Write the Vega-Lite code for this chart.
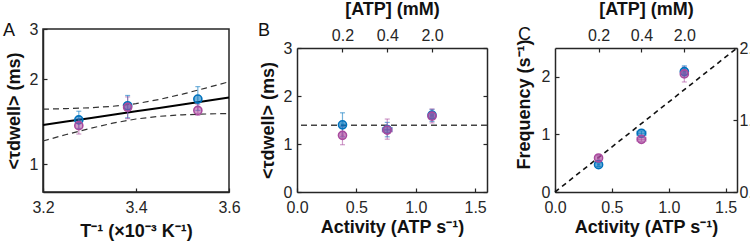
{
  "$schema": "https://vega.github.io/schema/vega-lite/v6.json",
  "padding": {"left": 2, "top": 0, "right": 0, "bottom": 0},
  "spacing": 68,
  "bounds": "flush",
  "config": {
    "font": "Liberation Sans",
    "view": {"stroke": "#262626", "strokeWidth": 1.5},
    "axis": {
      "grid": false, "domainColor": "#262626", "domainWidth": 1.5,
      "tickColor": "#262626", "tickSize": -4, "tickWidth": 1.2,
      "labelFont": "Liberation Sans", "labelFontSize": 16, "labelColor": "#262626",
      "labelFlush": false, "labelOverlap": false, "labelPadding": 9,
      "titleFont": "Liberation Sans", "titleFontSize": 18, "titleFontWeight": "bold",
      "titleColor": "#111111", "titlePadding": 6
    },
    "axisBottom": {"labelPadding": 11},
    "title": {"font": "Liberation Sans", "fontSize": 18, "fontWeight": "normal", "color": "#111111", "anchor": "start", "frame": "group", "offset": 0}
  },
  "datasets": {
    "a_pts": [
      {"invT": 3.277, "tau": 1.435, "lo": 1.34, "hi": 1.54, "series": "s1"},
      {"invT": 3.382, "tau": 1.61, "lo": 1.46, "hi": 1.75, "series": "s1"},
      {"invT": 3.533, "tau": 1.70, "lo": 1.55, "hi": 1.88, "series": "s1"},
      {"invT": 3.277, "tau": 1.37, "lo": 1.28, "hi": 1.45, "series": "s2"},
      {"invT": 3.382, "tau": 1.59, "lo": 1.45, "hi": 1.73, "series": "s2"},
      {"invT": 3.533, "tau": 1.55, "lo": 1.49, "hi": 1.63, "series": "s2"}
    ],
    "a_fit": [
      {"invT": 3.2, "fit": 1.377, "upper": 1.566, "lower": 1.210},
      {"invT": 3.25, "fit": 1.416, "upper": 1.573, "lower": 1.275},
      {"invT": 3.3, "fit": 1.456, "upper": 1.584, "lower": 1.338},
      {"invT": 3.35, "fit": 1.497, "upper": 1.603, "lower": 1.398},
      {"invT": 3.4, "fit": 1.539, "upper": 1.637, "lower": 1.446},
      {"invT": 3.45, "fit": 1.582, "upper": 1.694, "lower": 1.478},
      {"invT": 3.5, "fit": 1.627, "upper": 1.769, "lower": 1.496},
      {"invT": 3.55, "fit": 1.673, "upper": 1.858, "lower": 1.506},
      {"invT": 3.6, "fit": 1.72, "upper": 1.956, "lower": 1.512}
    ],
    "b_pts": [
      {"act": 0.383, "xlo": 0.372, "xhi": 0.394, "tau": 1.40, "lo": 1.15, "hi": 1.65, "series": "s1"},
      {"act": 0.76, "xlo": 0.72, "xhi": 0.80, "tau": 1.30, "lo": 1.15, "hi": 1.45, "series": "s1"},
      {"act": 1.137, "xlo": 1.126, "xhi": 1.148, "tau": 1.60, "lo": 1.47, "hi": 1.72, "series": "s1"},
      {"act": 0.383, "xlo": 0.372, "xhi": 0.394, "tau": 1.18, "lo": 0.985, "hi": 1.37, "series": "s2"},
      {"act": 0.76, "xlo": 0.72, "xhi": 0.80, "tau": 1.29, "lo": 1.10, "hi": 1.52, "series": "s2"},
      {"act": 1.137, "xlo": 1.126, "xhi": 1.148, "tau": 1.58, "lo": 1.44, "hi": 1.73, "series": "s2"}
    ],
    "b_ref": [{"ref": 1.39}],
    "c_pts": [
      {"act": 0.383, "xlo": 0.372, "xhi": 0.394, "freq": 0.475, "lo": 0.44, "hi": 0.51, "series": "s1"},
      {"act": 0.76, "xlo": 0.72, "xhi": 0.80, "freq": 1.02, "lo": 0.98, "hi": 1.06, "series": "s1"},
      {"act": 1.137, "xlo": 1.126, "xhi": 1.148, "freq": 2.09, "lo": 1.99, "hi": 2.19, "series": "s1"},
      {"act": 0.383, "xlo": 0.372, "xhi": 0.394, "freq": 0.59, "lo": 0.55, "hi": 0.63, "series": "s2"},
      {"act": 0.76, "xlo": 0.72, "xhi": 0.80, "freq": 0.915, "lo": 0.88, "hi": 0.95, "series": "s2"},
      {"act": 1.137, "xlo": 1.126, "xhi": 1.148, "freq": 2.05, "lo": 1.91, "hi": 2.17, "series": "s2"}
    ],
    "c_ref": [{"act": 0, "r": 0}, {"act": 1.6, "r": 2}]
  },
  "hconcat": [
    {
      "width": 186, "height": 163,
      "title": {"text": "A", "dx": -40, "dy": 23},
      "layer": [
        {
          "data": {"name": "a_fit"},
          "mark": {"type": "line", "strokeDash": [6, 4], "color": "#333333", "strokeWidth": 1.2},
          "encoding": {
            "x": {"field": "invT", "type": "quantitative", "title": "T⁻¹ (×10⁻³ K⁻¹)", "scale": {"domain": [3.2, 3.6], "nice": false, "zero": false},
                  "axis": {"values": [3.2, 3.4, 3.6], "format": ".1f", "titlePadding": 7}},
            "y": {"field": "upper", "type": "quantitative", "title": "<τdwell> (ms)", "scale": {"type": "log", "domain": [0.8, 3], "nice": false},
                  "axis": {"values": [1, 2, 3], "format": "d"}}
          }
        },
        {
          "data": {"name": "a_fit"},
          "mark": {"type": "line", "strokeDash": [6, 4], "color": "#333333", "strokeWidth": 1.2},
          "encoding": {
            "x": {"field": "invT", "type": "quantitative", "title": "T⁻¹ (×10⁻³ K⁻¹)"},
            "y": {"field": "lower", "type": "quantitative", "title": "<τdwell> (ms)"}
          }
        },
        {
          "data": {"name": "a_fit"},
          "mark": {"type": "line", "color": "#000000", "strokeWidth": 2},
          "encoding": {
            "x": {"field": "invT", "type": "quantitative", "title": "T⁻¹ (×10⁻³ K⁻¹)"},
            "y": {"field": "fit", "type": "quantitative", "title": "<τdwell> (ms)"}
          }
        },
        {
          "data": {"name": "a_pts"},
          "mark": {"type": "errorbar", "ticks": true, "size": 5, "thickness": 1.2, "opacity": 0.55},
          "encoding": {
            "x": {"field": "invT", "type": "quantitative", "title": "T⁻¹ (×10⁻³ K⁻¹)"},
            "y": {"field": "lo", "type": "quantitative", "title": "<τdwell> (ms)"},
            "y2": {"field": "hi"},
            "color": {"field": "series", "type": "nominal", "scale": {"domain": ["s1", "s2"], "range": ["#0072BD", "#A94A9E"]}, "legend": null}
          }
        },
        {
          "data": {"name": "a_pts"},
          "mark": {"type": "point", "filled": true, "size": 65, "fillOpacity": 0.55, "strokeWidth": 1.6, "strokeOpacity": 1},
          "encoding": {
            "x": {"field": "invT", "type": "quantitative", "title": "T⁻¹ (×10⁻³ K⁻¹)"},
            "y": {"field": "tau", "type": "quantitative", "title": "<τdwell> (ms)"},
            "fill": {"field": "series", "type": "nominal", "scale": {"domain": ["s1", "s2"], "range": ["#0072BD", "#A94A9E"]}, "legend": null},
            "stroke": {"field": "series", "type": "nominal", "scale": {"domain": ["s1", "s2"], "range": ["#0072BD", "#A94A9E"]}, "legend": null}
          }
        }
      ]
    },
    {
      "width": 190, "height": 163,
      "view": {"stroke": null},
      "title": {"text": "B", "dx": -39, "dy": 44},
      "resolve": {"axis": {"x": "independent", "y": "independent"}},
      "layer": [
        {
          "data": {"name": "b_ref"},
          "mark": {"type": "rule", "strokeDash": [6, 4], "color": "#444444", "strokeWidth": 1.6},
          "encoding": {
            "y": {"field": "ref", "type": "quantitative", "scale": {"domain": [0, 3], "range": [163, 19], "nice": false},
                  "axis": {"orient": "right", "labels": false, "title": null, "values": [0, 1, 2, 3]}}
          }
        },
        {
          "data": {"name": "b_pts"},
          "mark": {"type": "errorbar", "ticks": true, "size": 5, "thickness": 1.2, "opacity": 0.55},
          "encoding": {
            "x": {"field": "act", "type": "quantitative", "scale": {"domain": [0, 1.6], "nice": false},
                  "axis": {"orient": "top", "offset": -19, "values": [0.383, 0.76, 1.137], "titlePadding": 9,
                           "labelExpr": "datum.value < 0.5 ? '0.2' : datum.value < 1 ? '0.4' : '2.0'", "title": "[ATP] (mM)"}},
            "y": {"field": "lo", "type": "quantitative", "scale": {"domain": [0, 3], "range": [163, 19], "nice": false}, "axis": null},
            "y2": {"field": "hi"},
            "color": {"field": "series", "type": "nominal", "scale": {"domain": ["s1", "s2"], "range": ["#0072BD", "#A94A9E"]}, "legend": null}
          }
        },
        {
          "data": {"name": "b_pts"},
          "mark": {"type": "errorbar", "ticks": true, "size": 5, "thickness": 1.2, "opacity": 0.55},
          "encoding": {
            "x": {"field": "xlo", "type": "quantitative", "axis": null},
            "x2": {"field": "xhi"},
            "y": {"field": "tau", "type": "quantitative", "axis": null},
            "color": {"field": "series", "type": "nominal", "legend": null}
          }
        },
        {
          "data": {"name": "b_pts"},
          "mark": {"type": "point", "filled": true, "size": 65, "fillOpacity": 0.55, "strokeWidth": 1.6, "strokeOpacity": 1},
          "encoding": {
            "x": {"field": "act", "type": "quantitative", "axis": {"values": [0, 0.5, 1, 1.5], "format": ".1f", "title": "Activity (ATP s⁻¹)", "titlePadding": 3}},
            "y": {"field": "tau", "type": "quantitative", "axis": {"values": [0, 1, 2, 3], "title": "<τdwell> (ms)"}},
            "fill": {"field": "series", "type": "nominal", "scale": {"domain": ["s1", "s2"], "range": ["#0072BD", "#A94A9E"]}, "legend": null},
            "stroke": {"field": "series", "type": "nominal", "scale": {"domain": ["s1", "s2"], "range": ["#0072BD", "#A94A9E"]}, "legend": null}
          }
        }
      ]
    },
    {
      "width": 182, "height": 163,
      "view": {"stroke": null},
      "title": {"text": "C", "dx": -37, "dy": 48},
      "resolve": {"scale": {"y": "independent"}, "axis": {"x": "independent", "y": "independent"}},
      "layer": [
        {
          "data": {"name": "c_ref"},
          "mark": {"type": "line", "strokeDash": [5, 4], "color": "#111111", "strokeWidth": 1.6},
          "encoding": {
            "x": {"field": "act", "type": "quantitative", "scale": {"domain": [0, 1.6], "nice": false}, "axis": null},
            "y": {"field": "r", "type": "quantitative", "scale": {"domain": [0, 2], "range": [163, 19], "nice": false},
                  "axis": {"orient": "right", "values": [0, 1, 2], "title": null, "labelPadding": 6}}
          }
        },
        {
          "data": {"name": "c_pts"},
          "mark": {"type": "errorbar", "ticks": true, "size": 5, "thickness": 1.2, "opacity": 0.55},
          "encoding": {
            "x": {"field": "act", "type": "quantitative",
                  "axis": {"orient": "top", "offset": -19, "values": [0.383, 0.76, 1.137], "titlePadding": 9,
                           "labelExpr": "datum.value < 0.5 ? '0.2' : datum.value < 1 ? '0.4' : '2.0'", "title": "[ATP] (mM)"}},
            "y": {"field": "lo", "type": "quantitative", "scale": {"domain": [0, 2.5], "range": [163, 19], "nice": false}, "axis": null},
            "y2": {"field": "hi"},
            "color": {"field": "series", "type": "nominal", "scale": {"domain": ["s1", "s2"], "range": ["#0072BD", "#A94A9E"]}, "legend": null}
          }
        },
        {
          "data": {"name": "c_pts"},
          "mark": {"type": "errorbar", "ticks": true, "size": 5, "thickness": 1.2, "opacity": 0.55},
          "encoding": {
            "x": {"field": "xlo", "type": "quantitative", "axis": null},
            "x2": {"field": "xhi"},
            "y": {"field": "freq", "type": "quantitative", "scale": {"domain": [0, 2.5], "range": [163, 19], "nice": false}, "axis": null},
            "color": {"field": "series", "type": "nominal", "legend": null}
          }
        },
        {
          "data": {"name": "c_pts"},
          "mark": {"type": "point", "filled": true, "size": 65, "fillOpacity": 0.55, "strokeWidth": 1.6, "strokeOpacity": 1},
          "encoding": {
            "x": {"field": "act", "type": "quantitative", "axis": {"values": [0, 0.5, 1, 1.5], "format": ".1f", "title": "Activity (ATP s⁻¹)", "titlePadding": 3}},
            "y": {"field": "freq", "type": "quantitative", "scale": {"domain": [0, 2.5], "range": [163, 19], "nice": false},
                  "axis": {"values": [0, 1, 2], "title": "Frequency (s⁻¹)", "titleX": -22, "titleY": 75}},
            "fill": {"field": "series", "type": "nominal", "scale": {"domain": ["s1", "s2"], "range": ["#0072BD", "#A94A9E"]}, "legend": null},
            "stroke": {"field": "series", "type": "nominal", "scale": {"domain": ["s1", "s2"], "range": ["#0072BD", "#A94A9E"]}, "legend": null}
          }
        }
      ]
    }
  ]
}
